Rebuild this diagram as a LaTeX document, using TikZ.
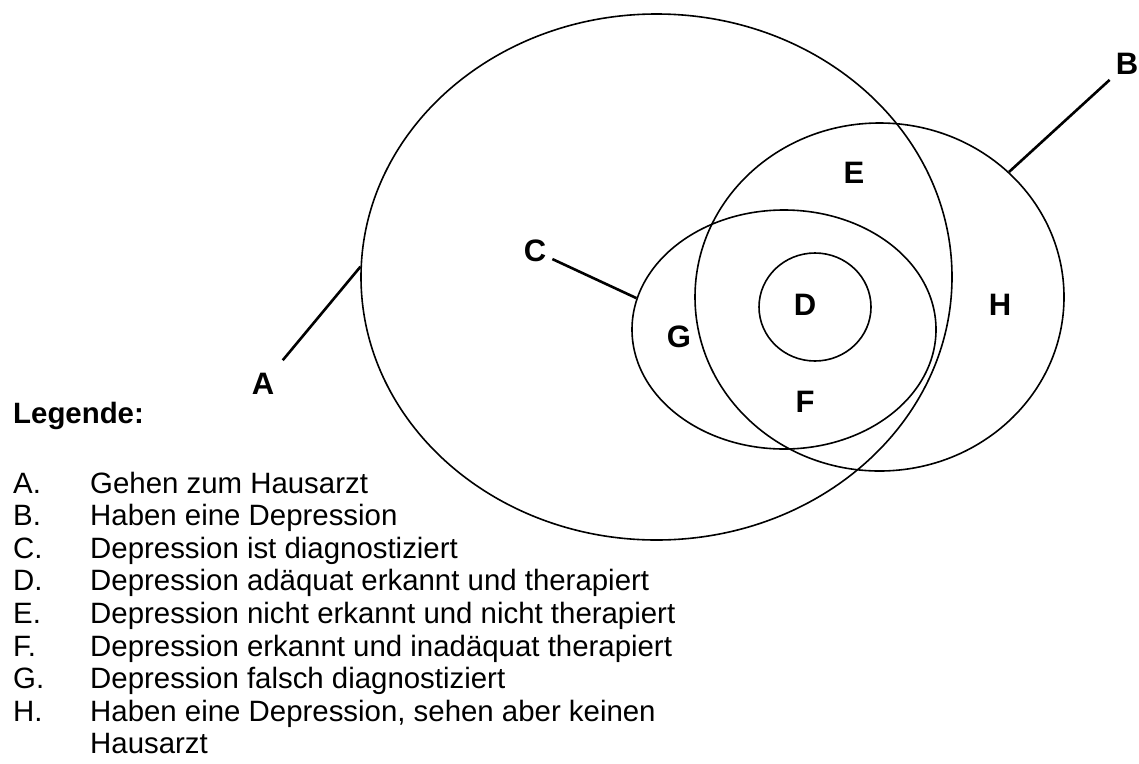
\documentclass[tikz,border=0pt]{standalone}
\usepackage{fontspec}
\setmainfont{Liberation Sans}
\usetikzlibrary{shapes.geometric}
\begin{document}
\begin{tikzpicture}[x=1pt,y=-1pt,
  region/.style={draw, ellipse, inner sep=0pt, line width=1.6pt},
  lab/.style={font=\fontsize{31}{31}\selectfont\bfseries, inner sep=6pt},
  conn/.style={line width=2.6pt},
  legtext/.style={font=\fontsize{29.4}{32.6}\selectfont, anchor=base west, inner sep=0pt},
  leghead/.style={font=\fontsize{29.4}{32.6}\selectfont\bfseries, anchor=base west, inner sep=0pt}]
\useasboundingbox (0,0) rectangle (1139,763);

% sets
\node[region, minimum width=591pt, minimum height=526pt] (Aell) at (656.5,277) {};
\node[region, minimum width=369pt, minimum height=348pt] (Bell) at (879.5,297) {};
\node[region, minimum width=304pt, minimum height=239pt] (Cell) at (784,329.5) {};
\node[region, minimum width=112pt, minimum height=108pt] (Dell) at (815,307) {};

% letters
\node[lab] (Alab) at (263,384) {A};
\node[lab] (Blab) at (1127,64) {B};
\node[lab] (Clab) at (535,251) {C};
\node[lab] (Dlab) at (805,305) {D};
\node[lab] (Elab) at (854,173) {E};
\node[lab] (Flab) at (805,402) {F};
\node[lab] (Glab) at (679,337) {G};
\node[lab] (Hlab) at (1000,305) {H};

% pointers
\draw[conn, shorten <=9pt] (Alab) -- (Aell.178);
\draw[conn] (Blab) -- (Bell.44);
\draw[conn] (Clab) -- (Cell.168);

% legend
\node[leghead] (leg) at (13,423) {Legende:};
\foreach \k/\t [count=\i from 0] in {
  A/Gehen zum Hausarzt,
  B/Haben eine Depression,
  C/Depression ist diagnostiziert,
  D/Depression adäquat erkannt und therapiert,
  E/Depression nicht erkannt und nicht therapiert,
  F/Depression erkannt und inadäquat therapiert,
  G/Depression falsch diagnostiziert,
  H/{Haben eine Depression, sehen aber keinen}}{
  \node[legtext] (key\k) at (13,493+32.6*\i) {\k.};
  \node[legtext] (item\k) at (90,493+32.6*\i) {\t};
}
\node[legtext] (itemHb) at (90,493+32.6*8) {Hausarzt};
\end{tikzpicture}
\end{document}
